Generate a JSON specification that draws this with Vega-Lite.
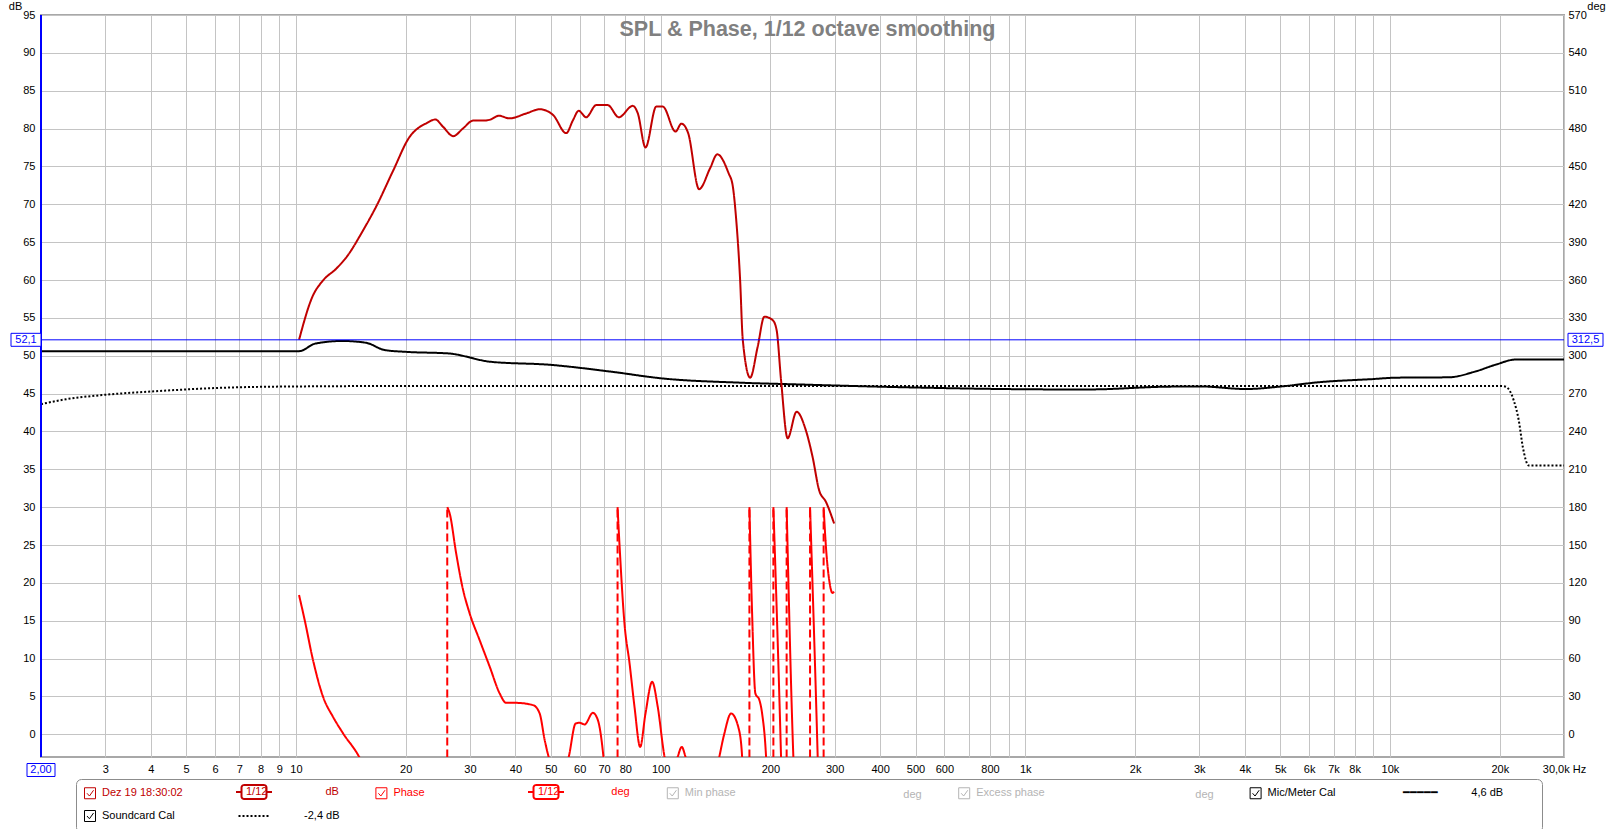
{
  "$schema": "https://vega.github.io/schema/vega-lite/v6.json",
  "width": 1523,
  "height": 742,
  "autosize": {"type": "none"},
  "padding": {"left": 41, "top": 15, "right": 51, "bottom": 72},
  "background": "#ffffff",
  "title": {"text": "SPL & Phase, 1/12 octave smoothing", "font": "Liberation Sans", "fontSize": 21.5, "fontWeight": "bold", "color": "#808080", "anchor": "middle", "frame": "group", "baseline": "alphabetic", "offset": -56.5, "dx": 5},
  "config": {
    "font": "Liberation Sans",
    "view": {"stroke": "#a8a8a8", "strokeWidth": 2},
    "axis": {"labelFont": "Liberation Sans", "labelFontSize": 11, "labelColor": "#000000", "gridColor": "#c4c4c4", "gridWidth": 1, "domain": false, "ticks": false, "labelOverlap": false, "titleFont": "Liberation Sans", "titleFontSize": 11, "titleFontWeight": "normal", "titleColor": "#000000"},
    "legend": {"labelFont": "Liberation Sans", "labelFontSize": 11, "labelLimit": 600}
  },
  "datasets": {
    "db": [
      {"f": 2, "db": 50.6, "series": "Mic/Meter Cal"},
      {"f": 10.2, "db": 50.6, "series": "Mic/Meter Cal"},
      {"f": 11.3, "db": 51.6, "series": "Mic/Meter Cal"},
      {"f": 13.4, "db": 51.95, "series": "Mic/Meter Cal"},
      {"f": 15.6, "db": 51.7, "series": "Mic/Meter Cal"},
      {"f": 17.5, "db": 50.75, "series": "Mic/Meter Cal"},
      {"f": 20.2, "db": 50.5, "series": "Mic/Meter Cal"},
      {"f": 26.2, "db": 50.3, "series": "Mic/Meter Cal"},
      {"f": 34.2, "db": 49.2, "series": "Mic/Meter Cal"},
      {"f": 49.7, "db": 48.8, "series": "Mic/Meter Cal"},
      {"f": 73, "db": 47.9, "series": "Mic/Meter Cal"},
      {"f": 101, "db": 47.0, "series": "Mic/Meter Cal"},
      {"f": 163, "db": 46.45, "series": "Mic/Meter Cal"},
      {"f": 241, "db": 46.2, "series": "Mic/Meter Cal"},
      {"f": 500, "db": 45.8, "series": "Mic/Meter Cal"},
      {"f": 1238, "db": 45.55, "series": "Mic/Meter Cal"},
      {"f": 1507, "db": 45.55, "series": "Mic/Meter Cal"},
      {"f": 2388, "db": 45.9, "series": "Mic/Meter Cal"},
      {"f": 2994, "db": 45.95, "series": "Mic/Meter Cal"},
      {"f": 4028, "db": 45.6, "series": "Mic/Meter Cal"},
      {"f": 5061, "db": 45.95, "series": "Mic/Meter Cal"},
      {"f": 6385, "db": 46.5, "series": "Mic/Meter Cal"},
      {"f": 8866, "db": 46.9, "series": "Mic/Meter Cal"},
      {"f": 10450, "db": 47.1, "series": "Mic/Meter Cal"},
      {"f": 14500, "db": 47.15, "series": "Mic/Meter Cal"},
      {"f": 17100, "db": 47.9, "series": "Mic/Meter Cal"},
      {"f": 19440, "db": 48.8, "series": "Mic/Meter Cal"},
      {"f": 22150, "db": 49.5, "series": "Mic/Meter Cal"},
      {"f": 30000, "db": 49.5, "series": "Mic/Meter Cal"},
      {"f": 2, "db": 43.6, "series": "Soundcard Cal"},
      {"f": 2.34, "db": 44.25, "series": "Soundcard Cal"},
      {"f": 2.94, "db": 44.8, "series": "Soundcard Cal"},
      {"f": 4.1, "db": 45.3, "series": "Soundcard Cal"},
      {"f": 6.6, "db": 45.8, "series": "Soundcard Cal"},
      {"f": 10.6, "db": 45.95, "series": "Soundcard Cal"},
      {"f": 20, "db": 46.0, "series": "Soundcard Cal"},
      {"f": 20140, "db": 46.0, "series": "Soundcard Cal"},
      {"f": 20780, "db": 45.9, "series": "Soundcard Cal"},
      {"f": 21840, "db": 44.1, "series": "Soundcard Cal"},
      {"f": 22540, "db": 41.5, "series": "Soundcard Cal"},
      {"f": 23130, "db": 37.95, "series": "Soundcard Cal"},
      {"f": 24010, "db": 35.5, "series": "Soundcard Cal"},
      {"f": 30000, "db": 35.5, "series": "Soundcard Cal"},
      {"f": 10.2, "db": 52.1, "series": "Dez 19 18:30:02"},
      {"f": 11.1, "db": 57.8, "series": "Dez 19 18:30:02"},
      {"f": 11.9, "db": 60.0, "series": "Dez 19 18:30:02"},
      {"f": 12.9, "db": 61.5, "series": "Dez 19 18:30:02"},
      {"f": 13.8, "db": 63.1, "series": "Dez 19 18:30:02"},
      {"f": 15.3, "db": 66.6, "series": "Dez 19 18:30:02"},
      {"f": 16.6, "db": 69.7, "series": "Dez 19 18:30:02"},
      {"f": 18.5, "db": 74.5, "series": "Dez 19 18:30:02"},
      {"f": 20.5, "db": 78.9, "series": "Dez 19 18:30:02"},
      {"f": 21.9, "db": 80.25, "series": "Dez 19 18:30:02"},
      {"f": 22.8, "db": 80.7, "series": "Dez 19 18:30:02"},
      {"f": 24.1, "db": 81.2, "series": "Dez 19 18:30:02"},
      {"f": 25.3, "db": 80.25, "series": "Dez 19 18:30:02"},
      {"f": 27.0, "db": 79.0, "series": "Dez 19 18:30:02"},
      {"f": 28.7, "db": 80.0, "series": "Dez 19 18:30:02"},
      {"f": 30.6, "db": 81.05, "series": "Dez 19 18:30:02"},
      {"f": 32.6, "db": 81.05, "series": "Dez 19 18:30:02"},
      {"f": 34.2, "db": 81.2, "series": "Dez 19 18:30:02"},
      {"f": 36.0, "db": 81.7, "series": "Dez 19 18:30:02"},
      {"f": 38.5, "db": 81.35, "series": "Dez 19 18:30:02"},
      {"f": 42.8, "db": 82.0, "series": "Dez 19 18:30:02"},
      {"f": 46.6, "db": 82.55, "series": "Dez 19 18:30:02"},
      {"f": 50.7, "db": 81.8, "series": "Dez 19 18:30:02"},
      {"f": 55.1, "db": 79.4, "series": "Dez 19 18:30:02"},
      {"f": 57.5, "db": 81.1, "series": "Dez 19 18:30:02"},
      {"f": 59.6, "db": 82.35, "series": "Dez 19 18:30:02"},
      {"f": 62.5, "db": 81.5, "series": "Dez 19 18:30:02"},
      {"f": 66.6, "db": 83.1, "series": "Dez 19 18:30:02"},
      {"f": 71.6, "db": 83.1, "series": "Dez 19 18:30:02"},
      {"f": 76.8, "db": 81.5, "series": "Dez 19 18:30:02"},
      {"f": 83.9, "db": 83.0, "series": "Dez 19 18:30:02"},
      {"f": 86.6, "db": 82.0, "series": "Dez 19 18:30:02"},
      {"f": 90.9, "db": 77.5, "series": "Dez 19 18:30:02"},
      {"f": 97.3, "db": 82.9, "series": "Dez 19 18:30:02"},
      {"f": 101.4, "db": 82.9, "series": "Dez 19 18:30:02"},
      {"f": 109.9, "db": 79.6, "series": "Dez 19 18:30:02"},
      {"f": 114, "db": 80.65, "series": "Dez 19 18:30:02"},
      {"f": 119, "db": 79.4, "series": "Dez 19 18:30:02"},
      {"f": 127.5, "db": 72.0, "series": "Dez 19 18:30:02"},
      {"f": 136.8, "db": 74.8, "series": "Dez 19 18:30:02"},
      {"f": 143, "db": 76.6, "series": "Dez 19 18:30:02"},
      {"f": 153.6, "db": 74.1, "series": "Dez 19 18:30:02"},
      {"f": 157.6, "db": 72.5, "series": "Dez 19 18:30:02"},
      {"f": 160.9, "db": 68.4, "series": "Dez 19 18:30:02"},
      {"f": 165.2, "db": 60.0, "series": "Dez 19 18:30:02"},
      {"f": 168, "db": 52.1, "series": "Dez 19 18:30:02"},
      {"f": 176, "db": 47.1, "series": "Dez 19 18:30:02"},
      {"f": 184.6, "db": 51.2, "series": "Dez 19 18:30:02"},
      {"f": 192.5, "db": 55.15, "series": "Dez 19 18:30:02"},
      {"f": 202.9, "db": 54.7, "series": "Dez 19 18:30:02"},
      {"f": 208, "db": 53.4, "series": "Dez 19 18:30:02"},
      {"f": 213.9, "db": 46.8, "series": "Dez 19 18:30:02"},
      {"f": 223, "db": 39.1, "series": "Dez 19 18:30:02"},
      {"f": 236, "db": 42.6, "series": "Dez 19 18:30:02"},
      {"f": 250, "db": 40.2, "series": "Dez 19 18:30:02"},
      {"f": 261, "db": 36.65, "series": "Dez 19 18:30:02"},
      {"f": 272, "db": 32.25, "series": "Dez 19 18:30:02"},
      {"f": 284, "db": 30.7, "series": "Dez 19 18:30:02"},
      {"f": 299, "db": 27.85, "series": "Dez 19 18:30:02"}
    ],
    "phase": [
      {"f": 10.2, "deg": 110.3, "seg": 1, "series": "Phase"},
      {"f": 10.57, "deg": 90.5, "seg": 1, "series": "Phase"},
      {"f": 11.14, "deg": 58.8, "seg": 1, "series": "Phase"},
      {"f": 11.87, "deg": 29.7, "seg": 1, "series": "Phase"},
      {"f": 12.64, "deg": 13.8, "seg": 1, "series": "Phase"},
      {"f": 13.47, "deg": 0.7, "seg": 1, "series": "Phase"},
      {"f": 14.9, "deg": -17.8, "seg": 1, "series": "Phase"},
      {"f": 18, "deg": -80, "seg": 1, "series": "Phase"},
      {"f": 22, "deg": -140, "seg": 1, "series": "Phase"},
      {"f": 26.0, "deg": -180, "seg": 1, "series": "Phase"},
      {"f": 26.0, "deg": 180, "seg": 2, "series": "Phase"},
      {"f": 26.4, "deg": 175, "seg": 2, "series": "Phase"},
      {"f": 27.5, "deg": 143.5, "seg": 2, "series": "Phase"},
      {"f": 28.6, "deg": 117, "seg": 2, "series": "Phase"},
      {"f": 29.95, "deg": 95.8, "seg": 2, "series": "Phase"},
      {"f": 31.9, "deg": 74.6, "seg": 2, "series": "Phase"},
      {"f": 34.0, "deg": 53.5, "seg": 2, "series": "Phase"},
      {"f": 36.2, "deg": 32.4, "seg": 2, "series": "Phase"},
      {"f": 37.7, "deg": 24.9, "seg": 2, "series": "Phase"},
      {"f": 40.2, "deg": 24.9, "seg": 2, "series": "Phase"},
      {"f": 44.7, "deg": 23.1, "seg": 2, "series": "Phase"},
      {"f": 46.6, "deg": 16.5, "seg": 2, "series": "Phase"},
      {"f": 48.1, "deg": -4.6, "seg": 2, "series": "Phase"},
      {"f": 49.3, "deg": -17.8, "seg": 2, "series": "Phase"},
      {"f": 52.5, "deg": -40, "seg": 2, "series": "Phase"},
      {"f": 56.0, "deg": -17.8, "seg": 2, "series": "Phase"},
      {"f": 58.5, "deg": 8.6, "seg": 2, "series": "Phase"},
      {"f": 60.0, "deg": 9.1, "seg": 2, "series": "Phase"},
      {"f": 61.9, "deg": 7.8, "seg": 2, "series": "Phase"},
      {"f": 65.2, "deg": 17, "seg": 2, "series": "Phase"},
      {"f": 67.3, "deg": 11.2, "seg": 2, "series": "Phase"},
      {"f": 69.7, "deg": -17.8, "seg": 2, "series": "Phase"},
      {"f": 73, "deg": -100, "seg": 2, "series": "Phase"},
      {"f": 76.2, "deg": -180, "seg": 2, "series": "Phase"},
      {"f": 76.2, "deg": 180, "seg": 3, "series": "Phase"},
      {"f": 77.2, "deg": 148.6, "seg": 3, "series": "Phase"},
      {"f": 79.6, "deg": 87.8, "seg": 3, "series": "Phase"},
      {"f": 82.2, "deg": 56.2, "seg": 3, "series": "Phase"},
      {"f": 84.8, "deg": 21.8, "seg": 3, "series": "Phase"},
      {"f": 87.9, "deg": -10, "seg": 3, "series": "Phase"},
      {"f": 90.9, "deg": 16.5, "seg": 3, "series": "Phase"},
      {"f": 94.8, "deg": 41.6, "seg": 3, "series": "Phase"},
      {"f": 98.2, "deg": 21.8, "seg": 3, "series": "Phase"},
      {"f": 102.5, "deg": -17.8, "seg": 3, "series": "Phase"},
      {"f": 107, "deg": -35, "seg": 3, "series": "Phase"},
      {"f": 111.4, "deg": -17.8, "seg": 3, "series": "Phase"},
      {"f": 114.3, "deg": -10, "seg": 3, "series": "Phase"},
      {"f": 117, "deg": -17.8, "seg": 3, "series": "Phase"},
      {"f": 125, "deg": -50, "seg": 3, "series": "Phase"},
      {"f": 138, "deg": -50, "seg": 3, "series": "Phase"},
      {"f": 144.9, "deg": -17.8, "seg": 3, "series": "Phase"},
      {"f": 149.6, "deg": 0.7, "seg": 3, "series": "Phase"},
      {"f": 156, "deg": 16.5, "seg": 3, "series": "Phase"},
      {"f": 163.7, "deg": 4.6, "seg": 3, "series": "Phase"},
      {"f": 167.3, "deg": -17.8, "seg": 3, "series": "Phase"},
      {"f": 171, "deg": -100, "seg": 3, "series": "Phase"},
      {"f": 175.2, "deg": -180, "seg": 3, "series": "Phase"},
      {"f": 175.2, "deg": 180, "seg": 4, "series": "Phase"},
      {"f": 178.2, "deg": 95.8, "seg": 4, "series": "Phase"},
      {"f": 181.9, "deg": 32.4, "seg": 4, "series": "Phase"},
      {"f": 186.6, "deg": 27.1, "seg": 4, "series": "Phase"},
      {"f": 189.8, "deg": 16.5, "seg": 4, "series": "Phase"},
      {"f": 194.6, "deg": -17.8, "seg": 4, "series": "Phase"},
      {"f": 200, "deg": -110, "seg": 4, "series": "Phase"},
      {"f": 203.8, "deg": -180, "seg": 4, "series": "Phase"},
      {"f": 203.8, "deg": 180, "seg": 5, "series": "Phase"},
      {"f": 213.9, "deg": -17.8, "seg": 5, "series": "Phase"},
      {"f": 218, "deg": -110, "seg": 5, "series": "Phase"},
      {"f": 221.6, "deg": -180, "seg": 5, "series": "Phase"},
      {"f": 221.6, "deg": 180, "seg": 6, "series": "Phase"},
      {"f": 231.2, "deg": -17.8, "seg": 6, "series": "Phase"},
      {"f": 245, "deg": -120, "seg": 6, "series": "Phase"},
      {"f": 256.9, "deg": -180, "seg": 6, "series": "Phase"},
      {"f": 256.9, "deg": 180, "seg": 7, "series": "Phase"},
      {"f": 269.6, "deg": -17.8, "seg": 7, "series": "Phase"},
      {"f": 275, "deg": -110, "seg": 7, "series": "Phase"},
      {"f": 279.9, "deg": -180, "seg": 7, "series": "Phase"},
      {"f": 279.9, "deg": 180, "seg": 8, "series": "Phase"},
      {"f": 284, "deg": 148.6, "seg": 8, "series": "Phase"},
      {"f": 290, "deg": 122, "seg": 8, "series": "Phase"},
      {"f": 296, "deg": 112, "seg": 8, "series": "Phase"},
      {"f": 299, "deg": 113, "seg": 8, "series": "Phase"}
    ],
    "wraps": [
      {"f": 26.0, "lo": -180, "hi": 180},
      {"f": 76.2, "lo": -180, "hi": 180},
      {"f": 175.2, "lo": -180, "hi": 180},
      {"f": 203.8, "lo": -180, "hi": 180},
      {"f": 221.6, "lo": -180, "hi": 180},
      {"f": 256.9, "lo": -180, "hi": 180},
      {"f": 279.9, "lo": -180, "hi": 180}
    ],
    "cursor": [
      {"f": 2, "db": 52.1, "deg": 312.5, "fLabel": "2,00", "dbLabel": "52,1", "degLabel": "312,5"}
    ]
  },
  "layer": [
    {
      "layer": [
        {
          "data": {"name": "db"},
          "transform": [{"calculate": "'u:' + datum.series", "as": "k2"}],
          "mark": {"type": "line", "interpolate": "monotone", "strokeWidth": 2, "clip": true},
          "encoding": {
            "x": {"field": "f", "type": "quantitative", "scale": {"type": "log", "domain": [2, 30000], "nice": false},
              "axis": {"values": [2,3,4,5,6,7,8,9,10,20,30,40,50,60,70,80,90,100,200,300,400,500,600,700,800,900,1000,2000,3000,4000,5000,6000,7000,8000,9000,10000,20000,30000],
                "tickCount": 200, "grid": true, "title": null, "labelPadding": 6, "labelOverlap": false, "labelFlush": false, "labelBaseline": "top",
                "labelExpr": "indexof([2,90,700,900,9000], datum.value) >= 0 ? '' : datum.value === 30000 ? '30,0k Hz' : datum.value >= 1000 ? format(datum.value / 1000, 'd') + 'k' : format(datum.value, 'd')"}},
            "y": {"field": "db", "type": "quantitative", "scale": {"domain": [-3, 95], "nice": false, "zero": false},
              "axis": {"orient": "left", "values": [0,5,10,15,20,25,30,35,40,45,50,55,60,65,70,75,80,85,90,95], "tickCount": 200, "format": "d", "grid": true, "labelPadding": 6, "labelOverlap": false, "labelFlush": false,
                "title": "dB", "titleAngle": 0, "titleX": -26, "titleY": -14.5, "titleAlign": "center", "titleBaseline": "top"}},
            "color": {"field": "series", "type": "nominal",
              "scale": {"domain": ["Dez 19 18:30:02", "Phase", "Min phase", "Excess phase", "Mic/Meter Cal", "Soundcard Cal"], "range": ["#c00000", "#ff0000", "#b4b4b4", "#b4b4b4", "#000000", "#000000"]},
              "legend": {
                "orient": "none", "legendX": 35, "legendY": 764, "direction": "horizontal", "columns": 5, "gridAlign": "all", "columnPadding": 4.4, "rowPadding": 7,
                "padding": 8, "strokeColor": "#8c8c8c", "cornerRadius": 5, "fillColor": "#ffffff", "title": null,
                "symbolType": "M-1,-1H1V1H-1ZM-0.55,0L-0.1,0.5L0.65,-0.55", "symbolSize": 121, "symbolStrokeWidth": 1,
                "symbolFillColor": "#ffffff", "symbolStrokeColor": "#404040", "labelOffset": 6, "labelLimit": 600,
                "labelExpr": "datum.label === 'Mic/Meter Cal' ? datum.label + pad('', 22, '\u00a0') + '\u2501\u2501\u2501\u2501\u2501' + pad('', 11, '\u00a0') + '4,6 dB' + pad('', 10, '\u00a0') + '\u200b' : datum.label",
                "encode": {
                  "symbols": {"update": {"stroke": {"signal": "(datum.value === 'Min phase' || datum.value === 'Excess phase') ? '#c0c0c0' : '#404040'"}, "fill": {"value": "#ffffff"}, "strokeWidth": {"value": 1}}},
                  "labels": {"update": {"fill": {"signal": "datum.value === 'Dez 19 18:30:02' ? '#c00000' : datum.value === 'Phase' ? '#ff0000' : (datum.value === 'Min phase' || datum.value === 'Excess phase') ? '#b4b4b4' : '#000000'"}}}
                }
              }},
            "strokeDash": {"field": "k2", "type": "nominal",
              "scale": {"domain": ["u:Dez 19 18:30:02", "u:Phase", "u:Min phase", "u:Excess phase", "u:Mic/Meter Cal", "u:Soundcard Cal"], "range": [[1, 0], [1, 0], [1, 0], [1, 0], [1, 0], [2, 2]]},
              "legend": {
                "values": ["u:Dez 19 18:30:02", "u:Phase", "u:Min phase", "u:Excess phase", "u:Soundcard Cal"],
                "orient": "none", "legendX": 207, "legendY": 771, "direction": "horizontal", "columns": 4, "gridAlign": "all", "columnPadding": 184, "rowPadding": 7,
                "padding": 0, "title": null,
                "symbolType": "M-3.1,0H3.1", "symbolSize": 100, "symbolStrokeWidth": 2, "symbolFillColor": "#ffffff",
                "labelOffset": -14, "labelLimit": 600,
                "labelExpr": "datum.value === 'u:Dez 19 18:30:02' ? '1/12' + pad('dB', 21, '\u00a0', 'left') : datum.value === 'u:Phase' ? '1/12' + pad('deg', 20, '\u00a0', 'left') : datum.value === 'u:Soundcard Cal' ? '\u200b' + pad('-2,4 dB', 26, '\u00a0', 'left') : '\u200b' + pad('deg', 27, '\u00a0', 'left')",
                "encode": {
                  "symbols": {"update": {
                    "shape": {"signal": "(datum.value === 'u:Dez 19 18:30:02' || datum.value === 'u:Phase') ? 'M-3.6,0H-2.5M2.5,0H3.6M-1.9,-1.4H1.9Q2.5,-1.4 2.5,-0.8V0.8Q2.5,1.4 1.9,1.4H-1.9Q-2.5,1.4 -2.5,0.8V-0.8Q-2.5,-1.4 -1.9,-1.4Z' : 'M-3.1,0H3.1'"},
                    "stroke": {"signal": "datum.value === 'u:Dez 19 18:30:02' ? '#c00000' : datum.value === 'u:Phase' ? '#ff0000' : '#000000'"},
                    "fill": {"value": "#ffffff"},
                    "opacity": {"signal": "(datum.value === 'u:Min phase' || datum.value === 'u:Excess phase') ? 0 : 1"},
                    "strokeWidth": {"value": 2}
                  }},
                  "labels": {"update": {"fill": {"signal": "datum.value === 'u:Dez 19 18:30:02' ? '#c00000' : datum.value === 'u:Phase' ? '#ff0000' : (datum.value === 'u:Min phase' || datum.value === 'u:Excess phase') ? '#b4b4b4' : '#000000'"}}}
                }
              }}
          }
        },
        {
          "data": {"name": "cursor"},
          "mark": {"type": "rule", "color": "#0000ff", "strokeWidth": 1},
          "encoding": {
            "y": {"field": "db", "type": "quantitative", "scale": {"domain": [-3, 95], "nice": false, "zero": false}}
          }
        },
        {
          "data": {"name": "cursor"},
          "mark": {"type": "rule", "color": "#0000ff", "strokeWidth": 2},
          "encoding": {
            "x": {"field": "f", "type": "quantitative", "scale": {"type": "log", "domain": [2, 30000], "nice": false}}
          }
        },
        {
          "data": {"name": "cursor"},
          "mark": {"type": "point", "shape": "M-1,-0.433H1V0.433H-1Z", "size": 900, "filled": true, "fill": "#ffffff", "stroke": "#0000ff", "strokeWidth": 1, "opacity": 1, "xOffset": -15},
          "encoding": {
            "x": {"field": "f", "type": "quantitative", "scale": {"type": "log", "domain": [2, 30000], "nice": false}},
            "y": {"field": "db", "type": "quantitative", "scale": {"domain": [-3, 95], "nice": false, "zero": false}}
          }
        },
        {
          "data": {"name": "cursor"},
          "mark": {"type": "text", "color": "#0000ff", "fontSize": 11, "font": "Liberation Sans", "dx": -15, "align": "center", "baseline": "middle"},
          "encoding": {
            "x": {"field": "f", "type": "quantitative", "scale": {"type": "log", "domain": [2, 30000], "nice": false}},
            "y": {"field": "db", "type": "quantitative", "scale": {"domain": [-3, 95], "nice": false, "zero": false}},
            "text": {"field": "dbLabel"}
          }
        },
        {
          "data": {"name": "cursor"},
          "mark": {"type": "point", "shape": "M-1,-0.371H1V0.371H-1Z", "size": 1225, "filled": true, "fill": "#ffffff", "stroke": "#0000ff", "strokeWidth": 1, "opacity": 1, "xOffset": 21.5},
          "encoding": {
            "x": {"datum": 30000, "type": "quantitative", "scale": {"type": "log", "domain": [2, 30000], "nice": false}},
            "y": {"field": "db", "type": "quantitative", "scale": {"domain": [-3, 95], "nice": false, "zero": false}}
          }
        },
        {
          "data": {"name": "cursor"},
          "mark": {"type": "text", "color": "#0000ff", "fontSize": 11, "font": "Liberation Sans", "dx": 21.5, "align": "center", "baseline": "middle"},
          "encoding": {
            "x": {"datum": 30000, "type": "quantitative", "scale": {"type": "log", "domain": [2, 30000], "nice": false}},
            "y": {"field": "db", "type": "quantitative", "scale": {"domain": [-3, 95], "nice": false, "zero": false}},
            "text": {"field": "degLabel"}
          }
        },
        {
          "data": {"name": "cursor"},
          "mark": {"type": "point", "shape": "M-1,-0.464H1V0.464H-1Z", "size": 784, "filled": true, "fill": "#ffffff", "stroke": "#0000ff", "strokeWidth": 1, "opacity": 1, "yOffset": 13},
          "encoding": {
            "x": {"field": "f", "type": "quantitative", "scale": {"type": "log", "domain": [2, 30000], "nice": false}},
            "y": {"datum": -3, "type": "quantitative", "scale": {"domain": [-3, 95], "nice": false, "zero": false}}
          }
        },
        {
          "data": {"name": "cursor"},
          "mark": {"type": "text", "color": "#0000ff", "fontSize": 11, "font": "Liberation Sans", "dy": 13, "align": "center", "baseline": "middle"},
          "encoding": {
            "x": {"field": "f", "type": "quantitative", "scale": {"type": "log", "domain": [2, 30000], "nice": false}},
            "y": {"datum": -3, "type": "quantitative", "scale": {"domain": [-3, 95], "nice": false, "zero": false}},
            "text": {"field": "fLabel"}
          }
        }
      ]
    },
    {
      "layer": [
        {
          "data": {"name": "phase"},
          "transform": [{"calculate": "'u:' + datum.series", "as": "k2"}],
          "mark": {"type": "line", "interpolate": "monotone", "strokeWidth": 2, "clip": true},
          "encoding": {
            "x": {"field": "f", "type": "quantitative", "scale": {"type": "log", "domain": [2, 30000], "nice": false}},
            "y": {"field": "deg", "type": "quantitative", "scale": {"domain": [-18, 570], "nice": false, "zero": false},
              "axis": {"orient": "right", "values": [0,30,60,90,120,150,180,210,240,270,300,330,360,390,420,450,480,510,540,570], "tickCount": 200, "format": "d", "grid": false, "labelPadding": 4, "labelOverlap": false, "labelFlush": false,
                "title": "deg", "titleAngle": 0, "titleX": 32, "titleY": -14.5, "titleAlign": "center", "titleBaseline": "top"}},
            "detail": {"field": "seg", "type": "nominal"},
            "color": {"field": "series", "type": "nominal",
              "scale": {"domain": ["Dez 19 18:30:02", "Phase", "Min phase", "Excess phase", "Mic/Meter Cal", "Soundcard Cal"], "range": ["#c00000", "#ff0000", "#b4b4b4", "#b4b4b4", "#000000", "#000000"]},
              "legend": null},
            "strokeDash": {"field": "k2", "type": "nominal",
              "scale": {"domain": ["u:Dez 19 18:30:02", "u:Phase", "u:Min phase", "u:Excess phase", "u:Mic/Meter Cal", "u:Soundcard Cal"], "range": [[1, 0], [1, 0], [1, 0], [1, 0], [1, 0], [2, 2]]},
              "legend": null}
          }
        },
        {
          "data": {"name": "wraps"},
          "mark": {"type": "rule", "color": "#ff0000", "strokeWidth": 2, "strokeDash": [8, 4], "clip": true},
          "encoding": {
            "x": {"field": "f", "type": "quantitative", "scale": {"type": "log", "domain": [2, 30000], "nice": false}},
            "y": {"field": "lo", "type": "quantitative", "scale": {"domain": [-18, 570], "nice": false, "zero": false}},
            "y2": {"field": "hi"}
          }
        }
      ]
    }
  ],
  "resolve": {"scale": {"y": "independent"}}
}
